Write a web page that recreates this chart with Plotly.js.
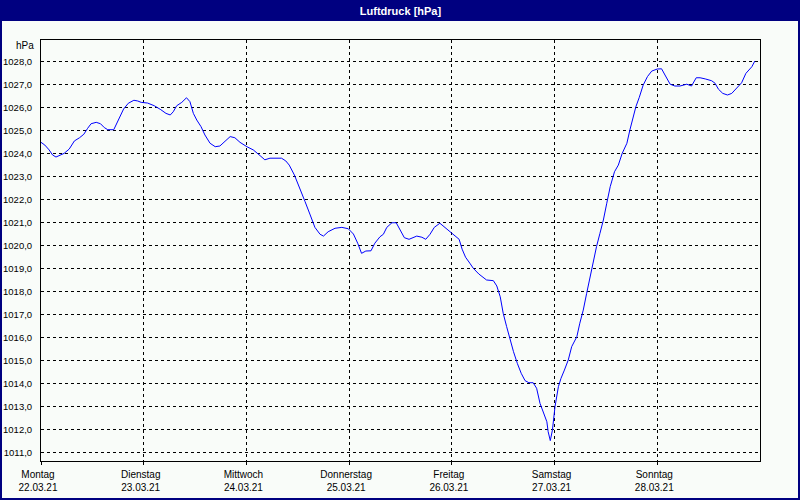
<!DOCTYPE html>
<html>
<head>
<meta charset="utf-8">
<script src="https://cdn.plot.ly/plotly-3.0.1.min.js"></script>
<style>
html,body{margin:0;padding:0;background:#f9fcf9;}
#chart{width:800px;height:500px;}
</style>
</head>
<body>
<div id="chart"></div>
<script>
// hours since Montag 22.03.21 00:00
const hours = [0,0.9,1.9,2.7,3.5,4.3,5.4,6.6,7.8,9.0,10.0,10.9,11.7,12.9,13.9,14.8,15.6,17.0,17.5,18.3,19.3,20.4,21.7,22.6,23.4,24.9,26.5,28.0,29.2,30.2,
30.9,31.7,32.9,34.0,34.8,35.6,36.4,37.4,38.3,39.5,40.7,41.8,43.0,44.2,45.3,46.5,48.1,49.6,51.2,52.3,53.5,55.1,56.2,57.2,58.0,
59.2,60.5,61.7,62.9,64.0,65.2,66.0,67.1,68.7,70.3,71.8,73.0,74.0,74.9,75.9,77.1,78.0,79.2,80.0,80.8,82.0,83.0,83.9,84.9,86.0,
87.8,89.0,89.9,90.9,91.9,93.2,94.4,95.8,96.9,97.7,98.4,99.2,100.2,101.0,102.3,104.1,105.7,106.5,107.3,108.0,108.8,109.6,110.4,111.3,112.2,113.1,114.0,
115.0,115.8,116.6,117.4,118.2,118.5,119.0,119.5,120.1,120.9,121.5,122.3,123.2,124.0,125.2,125.9,126.7,127.5,128.3,128.9,129.8,130.6,131.4,132.2,133.0,134.0,134.9,135.8,136.9,137.6,138.4,139.0,139.8,
140.7,141.7,142.7,144.0,145.0,145.8,147.0,148.1,149.3,150.9,152.0,153.1,154.0,155.2,156.7,157.5,158.3,159.3,160.4,161.4,162.6,163.7,164.7,166.1,166.8];
const pressure = [1024.49,1024.37,1024.16,1023.94,1023.85,1023.91,1024.01,1024.20,1024.55,1024.69,1024.84,1025.10,1025.30,1025.36,1025.30,1025.13,1025.04,1025.04,1025.24,1025.61,1025.94,1026.19,1026.32,1026.29,1026.23,1026.20,1026.08,1025.91,1025.75,1025.68,
1025.82,1026.08,1026.23,1026.43,1026.26,1025.75,1025.46,1025.17,1024.81,1024.45,1024.30,1024.33,1024.52,1024.74,1024.69,1024.49,1024.30,1024.16,1023.91,1023.73,1023.80,1023.80,1023.80,1023.68,1023.50,
1023.07,1022.49,1021.91,1021.33,1020.79,1020.49,1020.41,1020.60,1020.75,1020.79,1020.73,1020.50,1020.10,1019.66,1019.76,1019.77,1020.10,1020.38,1020.49,1020.79,1020.99,1020.99,1020.71,1020.34,1020.27,
1020.41,1020.36,1020.27,1020.49,1020.79,1020.97,1020.79,1020.57,1020.40,1020.27,1019.84,1019.49,1019.23,1019.01,1018.76,1018.50,1018.47,1018.24,1017.77,1017.05,1016.47,1015.89,1015.38,1014.87,1014.44,1014.12,1014.03,
1014.03,1013.79,1013.13,1012.70,1012.33,1011.90,1011.51,1011.97,1012.99,1013.86,1014.22,1014.58,1015.02,1015.60,1016.03,1016.62,1017.19,1017.92,1018.64,1019.23,1019.95,1020.53,1021.11,1021.84,1022.56,1023.21,1023.50,1024.01,1024.45,1025.03,1025.61,1026.04,1026.45,
1026.98,1027.35,1027.59,1027.68,1027.69,1027.42,1027.02,1026.94,1026.94,1027.02,1026.94,1027.30,1027.30,1027.25,1027.17,1027.06,1026.80,1026.62,1026.55,1026.62,1026.87,1027.08,1027.49,1027.78,1028.03];

const dayHours = [0,24,48,72,96,120,144];
const dayNames = ["Montag","Dienstag","Mittwoch","Donnerstag","Freitag","Samstag","Sonntag"];
const dayDates = ["22.03.21","23.03.21","24.03.21","25.03.21","26.03.21","27.03.21","28.03.21"];
const yTicks = [1011,1012,1013,1014,1015,1016,1017,1018,1019,1020,1021,1022,1023,1024,1025,1026,1027,1028];

const FONT = "Liberation Sans, sans-serif";
const BG = "#f9fcf9";
const NAVY = "#000080";

// plot area pixel geometry
const L = 41, R = 760, T = 40, B = 461, W = 800, H = 500;
const px = v => (v - L) / (R - L);
const py = v => (B - v) / (B - T);

const trace = {
  x: hours, y: pressure, type: "scatter", mode: "lines",
  line: {color: "#0000ff", width: 1}, hoverinfo: "skip"
};

const layout = {
  width: W, height: H,
  margin: {l: L, r: W - R, t: T, b: H - B, pad: 0},
  paper_bgcolor: BG, plot_bgcolor: BG,
  separators: ",.",
  showlegend: false,
  font: {family: FONT, size: 10, color: "#000"},
  title: {text: "Luftdruck [hPa]", x: 0.5, xanchor: "center", y: 1 - 11 / H, yanchor: "middle",
          xref: "paper",
          font: {family: FONT, size: 11, color: "#ffffff", weight: "bold"}},
  xaxis: {
    range: [0, 168], tickvals: dayHours,
    ticktext: dayNames.map((d, i) => d + "<br>" + dayDates[i]),
    showgrid: true, gridcolor: "#000", griddash: "3px,3px", gridwidth: 1,
    showline: true, linecolor: "#000", linewidth: 1, mirror: true,
    ticks: "outside", ticklen: 3, tickcolor: "#000",
    tickfont: {family: FONT, size: 10, color: "#000"},
    ticklabelshift: -3, ticklabelstandoff: 1,
    zeroline: false, fixedrange: true
  },
  yaxis: {
    range: [1010.623, 1028.943], tickvals: yTicks, tickformat: ".1f",
    showgrid: true, gridcolor: "#000", griddash: "3px,3px", gridwidth: 1,
    showline: true, linecolor: "#000", linewidth: 1, mirror: true,
    ticks: "", tickfont: {family: FONT, size: 9.5, color: "#000"},
    ticklabelstandoff: 6, zeroline: false, fixedrange: true
  },
  shapes: [
    {type: "rect", xref: "paper", yref: "paper", x0: px(0), x1: px(W), y0: py(21), y1: py(0),
     fillcolor: NAVY, line: {width: 0}, layer: "below"},
    {type: "rect", xref: "paper", yref: "paper", x0: px(1), x1: px(W - 1), y0: py(H - 1), y1: py(1),
     fillcolor: "rgba(0,0,0,0)", line: {color: NAVY, width: 2}}
  ],
  annotations: [
    {text: "hPa", xref: "paper", yref: "paper", x: px(36), y: py(45), xanchor: "right", yanchor: "middle",
     showarrow: false, font: {family: FONT, size: 10, color: "#000"}}
  ]
};

Plotly.newPlot("chart", [trace], layout, {displayModeBar: false, staticPlot: true});
</script>
</body>
</html>
